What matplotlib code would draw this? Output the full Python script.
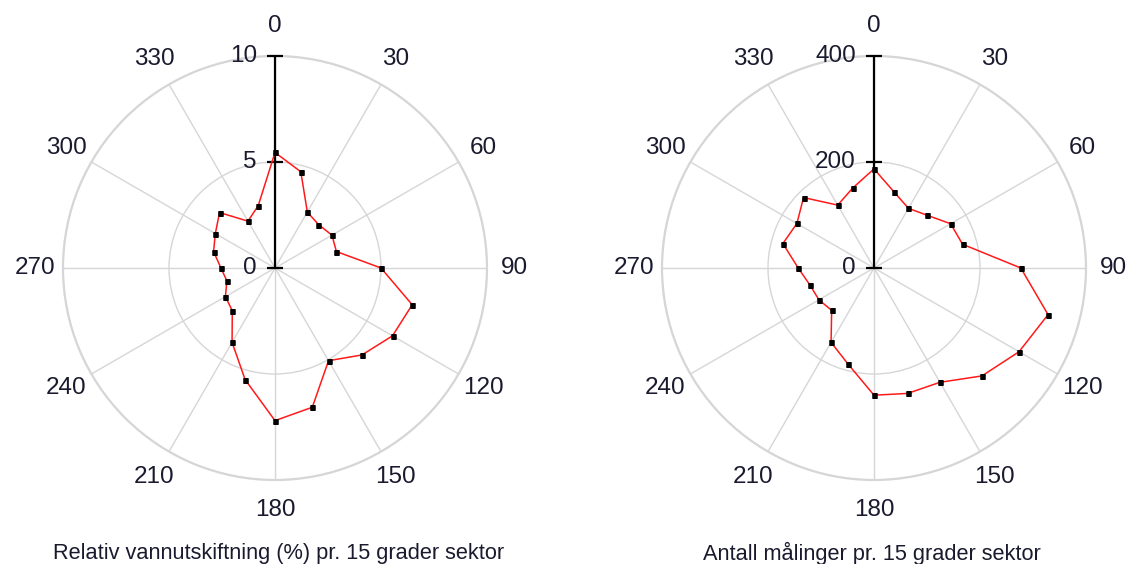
import numpy as np
import matplotlib.pyplot as plt
from matplotlib.transforms import offset_copy

plt.rcParams["font.family"] = ["Liberation Sans", "DejaVu Sans"]

# sector directions (degrees, clockwise from north)
sectors = list(range(0, 360, 15))

# relative water exchange (%) per 15 degree sector
exchange_pct = [5.45, 4.7, 3.05, 2.9, 3.1, 3.0, 5.0, 6.7, 6.4, 5.8, 5.05, 6.8,
                7.2, 5.45, 4.05, 2.85, 2.7, 2.35, 2.55, 3.0, 3.25, 3.7, 2.55, 3.05]

# number of measurements per 15 degree sector
n_measurements = [187, 148, 130, 141, 167, 173, 277, 340, 316, 288, 249, 245,
                  240, 188, 162, 113, 120, 125, 143, 178, 168, 188, 137, 156]

angle_labels = list(range(0, 360, 30))

TEXT = "#1a1a2e"
GRID = "#d6d6d6"


def rose(ax, values, rmax, rticks, caption, cx):
    ax.set_theta_zero_location("N")
    ax.set_theta_direction(-1)
    ax.set_ylim(0, rmax)
    ax.set_thetagrids(angle_labels, labels=[])
    ax.set_rgrids([rmax / 2, rmax], labels=[])
    ax.grid(True, color=GRID, lw=1.0)
    ax.spines["polar"].set_color(GRID)
    ax.spines["polar"].set_linewidth(1.6)
    ax.tick_params(length=0)

    # direction labels around the rim (a little further out at top/bottom)
    for a in angle_labels:
        rr = rmax * (1.13 + 0.012 * abs(np.cos(np.deg2rad(a))))
        ax.text(np.deg2rad(a), rr, str(a), ha="center", va="center",
                fontsize=17.5, color=TEXT, clip_on=False)

    # radial axis along north with tick marks
    ax.plot([0, 0], [0, rmax], color="black", lw=1.6, zorder=3)
    off = offset_copy(ax.transData, fig=ax.figure, x=-18, y=0, units="dots")
    for r in rticks:
        ax.plot([0], [r], marker="_", ms=12, mew=1.6, color="black", zorder=3,
                clip_on=False)
        ax.text(0, r, str(r), transform=off, ha="right", va="center",
                fontsize=17.5, color=TEXT)

    theta = np.deg2rad(sectors + [sectors[0]])
    vals = values + [values[0]]
    ax.plot(theta, vals, color="#ff1a1a", lw=1.1, zorder=4)
    ax.plot(np.deg2rad(sectors), values, ls="none", marker="s", ms=3.6,
            mew=0.4, color="black", zorder=5)

    ax.figure.text(cx / 1129, 1 - 553 / 564, caption, ha="center", va="center",
                   fontsize=15.7, color=TEXT)


fig = plt.figure(figsize=(11.29, 5.64), dpi=100)
w, h = 424 / 1129, 424 / 564
ax1 = fig.add_axes([63 / 1129, 84 / 564, w, h], projection="polar")
ax2 = fig.add_axes([662 / 1129, 84 / 564, w, h], projection="polar")

rose(ax1, exchange_pct, 10, [0, 5, 10],
     "Relativ vannutskiftning (%) pr. 15 grader sektor", 279)
rose(ax2, n_measurements, 400, [0, 200, 400],
     "Antall målinger pr. 15 grader sektor", 872)

fig.savefig("out.png", dpi=100, facecolor="white")
